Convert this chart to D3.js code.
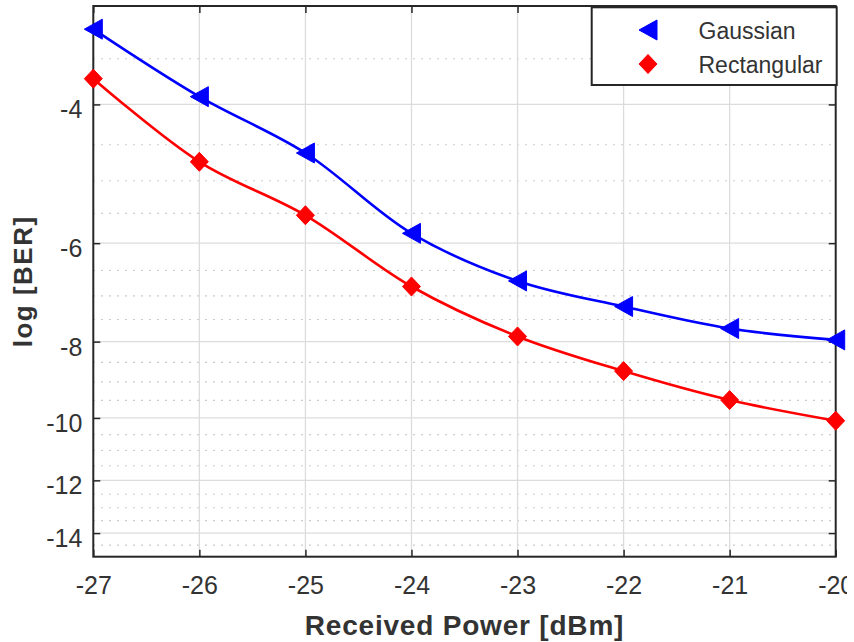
<!DOCTYPE html>
<html>
<head>
<meta charset="utf-8">
<script src="https://cdn.jsdelivr.net/npm/d3@7"></script>
<style>
  html, body { margin: 0; padding: 0; background: #ffffff; }
  svg { display: block; }
  text { font-family: "Liberation Sans", Arial, Helvetica, sans-serif; }
</style>
</head>
<body>
<svg id="chart" width="847" height="642"></svg>
<script>
// Received optical power (dBm)
const receivedPower = [-27, -26, -25, -24, -23, -22, -21, -20];
// log10 of the bit error rate for each pulse shape
const gaussianBER    = [-3.21, -3.91, -4.61, -5.83, -6.70, -7.22, -7.70, -7.96];
const rectangularBER = [-3.71, -4.73, -5.53, -6.81, -7.88, -8.72, -9.49, -10.08];

const seriesNames = ["Gaussian", "Rectangular"];
const seriesColors = ["#0000ff", "#ff0000"];

const xTicks = [-27, -26, -25, -24, -23, -22, -21, -20];
const yTicks = [-4, -6, -8, -10, -12, -14];
const yMinorTicks = [-3.5, -4.5, -5, -5.5, -6.5, -7, -7.5, -8.5, -9, -9.5,
                     -10.5, -11, -11.5, -12.5, -13, -13.5, -14.5];
const yDomain = [-3, -15];

const plot = { left: 93.3, right: 835.7, top: 6, bottom: 556.7 };
const ink = "#262626";

const svg = d3.select("#chart");

const x = d3.scaleLinear().domain([-27, -20]).range([plot.left, plot.right]);
// BER axis: logarithmic in the magnitude of log10(BER)
const yMag = d3.scaleLog().domain([-yDomain[0], -yDomain[1]]).range([plot.top, plot.bottom]);
const y = v => yMag(-v);

const g = svg.append("g");

// minor horizontal grid (dotted)
g.append("g").selectAll("line").data(yMinorTicks).join("line")
  .attr("x1", plot.left).attr("x2", plot.right)
  .attr("y1", d => y(d)).attr("y2", d => y(d))
  .attr("stroke", "#b4b4b4").attr("stroke-width", 1.1)
  .attr("stroke-dasharray", "1.4,6.6");

// major grid
g.append("g").selectAll("line").data(yTicks).join("line")
  .attr("x1", plot.left).attr("x2", plot.right)
  .attr("y1", d => y(d)).attr("y2", d => y(d))
  .attr("stroke", "#dcdcdc").attr("stroke-width", 1.3);
g.append("g").selectAll("line").data(xTicks.slice(1, -1)).join("line")
  .attr("y1", plot.top).attr("y2", plot.bottom)
  .attr("x1", d => x(d)).attr("x2", d => x(d))
  .attr("stroke", "#dcdcdc").attr("stroke-width", 1.3);

// axes with inward ticks
const tickLen = 7;
const xAxis = g.append("g").attr("transform", `translate(0,${plot.bottom})`)
  .call(d3.axisBottom(x).tickValues(xTicks).tickFormat(d => String(d))
        .tickSize(-tickLen).tickPadding(19.5));
const xAxisTop = g.append("g").attr("transform", `translate(0,${plot.top})`)
  .call(d3.axisTop(x).tickValues(xTicks).tickFormat("").tickSize(-tickLen));
const yAxis = g.append("g").attr("transform", `translate(${plot.left},0)`)
  .call(d3.axisLeft(yMag).tickValues(yTicks.map(v => -v)).tickFormat(d => String(-d))
        .tickSize(-tickLen).tickPadding(11));
const yAxisRight = g.append("g").attr("transform", `translate(${plot.right},0)`)
  .call(d3.axisRight(yMag).tickValues(yTicks.map(v => -v)).tickFormat("").tickSize(-tickLen));

[xAxis, xAxisTop, yAxis, yAxisRight].forEach(a => {
  a.select(".domain").remove();
  a.selectAll(".tick line").attr("stroke", ink).attr("stroke-width", 1.5);
  a.selectAll("text").attr("fill", "#333333").attr("font-size", 25)
    .attr("font-family", "'Liberation Sans', Arial, Helvetica, sans-serif");
});
yAxis.selectAll("text").attr("dy", "0.54em");

// axes box
g.append("rect")
  .attr("x", plot.left).attr("y", plot.top)
  .attr("width", plot.right - plot.left).attr("height", plot.bottom - plot.top)
  .attr("fill", "none").attr("stroke", ink).attr("stroke-width", 2);

// curves and markers
const series = [gaussianBER, rectangularBER];
const line = d3.line()
  .x((d, i) => x(receivedPower[i]))
  .y(d => y(d))
  .curve(d3.curveCatmullRom.alpha(0.5));

const triangle = "M-9,0L9,-10L9,10Z";
const diamond = "M0,-9.5L9,0L0,9.5L-9,0Z";
const markerPaths = [triangle, diamond];

series.forEach((vals, si) => {
  g.append("path").datum(vals)
    .attr("d", line)
    .attr("fill", "none")
    .attr("stroke", seriesColors[si])
    .attr("stroke-width", 2.6);
  g.append("g").selectAll("path").data(vals).join("path")
    .attr("transform", (d, i) => `translate(${x(receivedPower[i])},${y(d)})`)
    .attr("d", markerPaths[si])
    .attr("fill", seriesColors[si])
    .attr("stroke", seriesColors[si])
    .attr("stroke-width", 1);
});

// legend
const legend = g.append("g");
legend.append("rect")
  .attr("x", 591.7).attr("y", 7.3).attr("width", 245).attr("height", 77.7)
  .attr("fill", "#ffffff").attr("stroke", ink).attr("stroke-width", 2);
const legendRows = [30, 64];
seriesNames.forEach((name, si) => {
  legend.append("path")
    .attr("transform", `translate(648,${legendRows[si]})`)
    .attr("d", markerPaths[si])
    .attr("fill", seriesColors[si]).attr("stroke", seriesColors[si]).attr("stroke-width", 1);
  legend.append("text")
    .attr("x", 698.5).attr("y", legendRows[si] + 9)
    .attr("font-size", 23).attr("fill", "#333333")
    .text(name);
});

// axis titles
svg.append("text")
  .attr("x", (plot.left + plot.right) / 2).attr("y", 635)
  .attr("text-anchor", "middle")
  .attr("font-size", 28).attr("font-weight", "bold").attr("fill", "#333333")
  .attr("letter-spacing", 0.8)
  .text("Received Power [dBm]");
svg.append("text")
  .attr("transform", `translate(32,${(plot.top + plot.bottom) / 2}) rotate(-90)`)
  .attr("text-anchor", "middle")
  .attr("font-size", 26).attr("font-weight", "bold").attr("fill", "#333333")
  .attr("letter-spacing", 1.5)
  .text("log [BER]");
</script>
</body>
</html>
